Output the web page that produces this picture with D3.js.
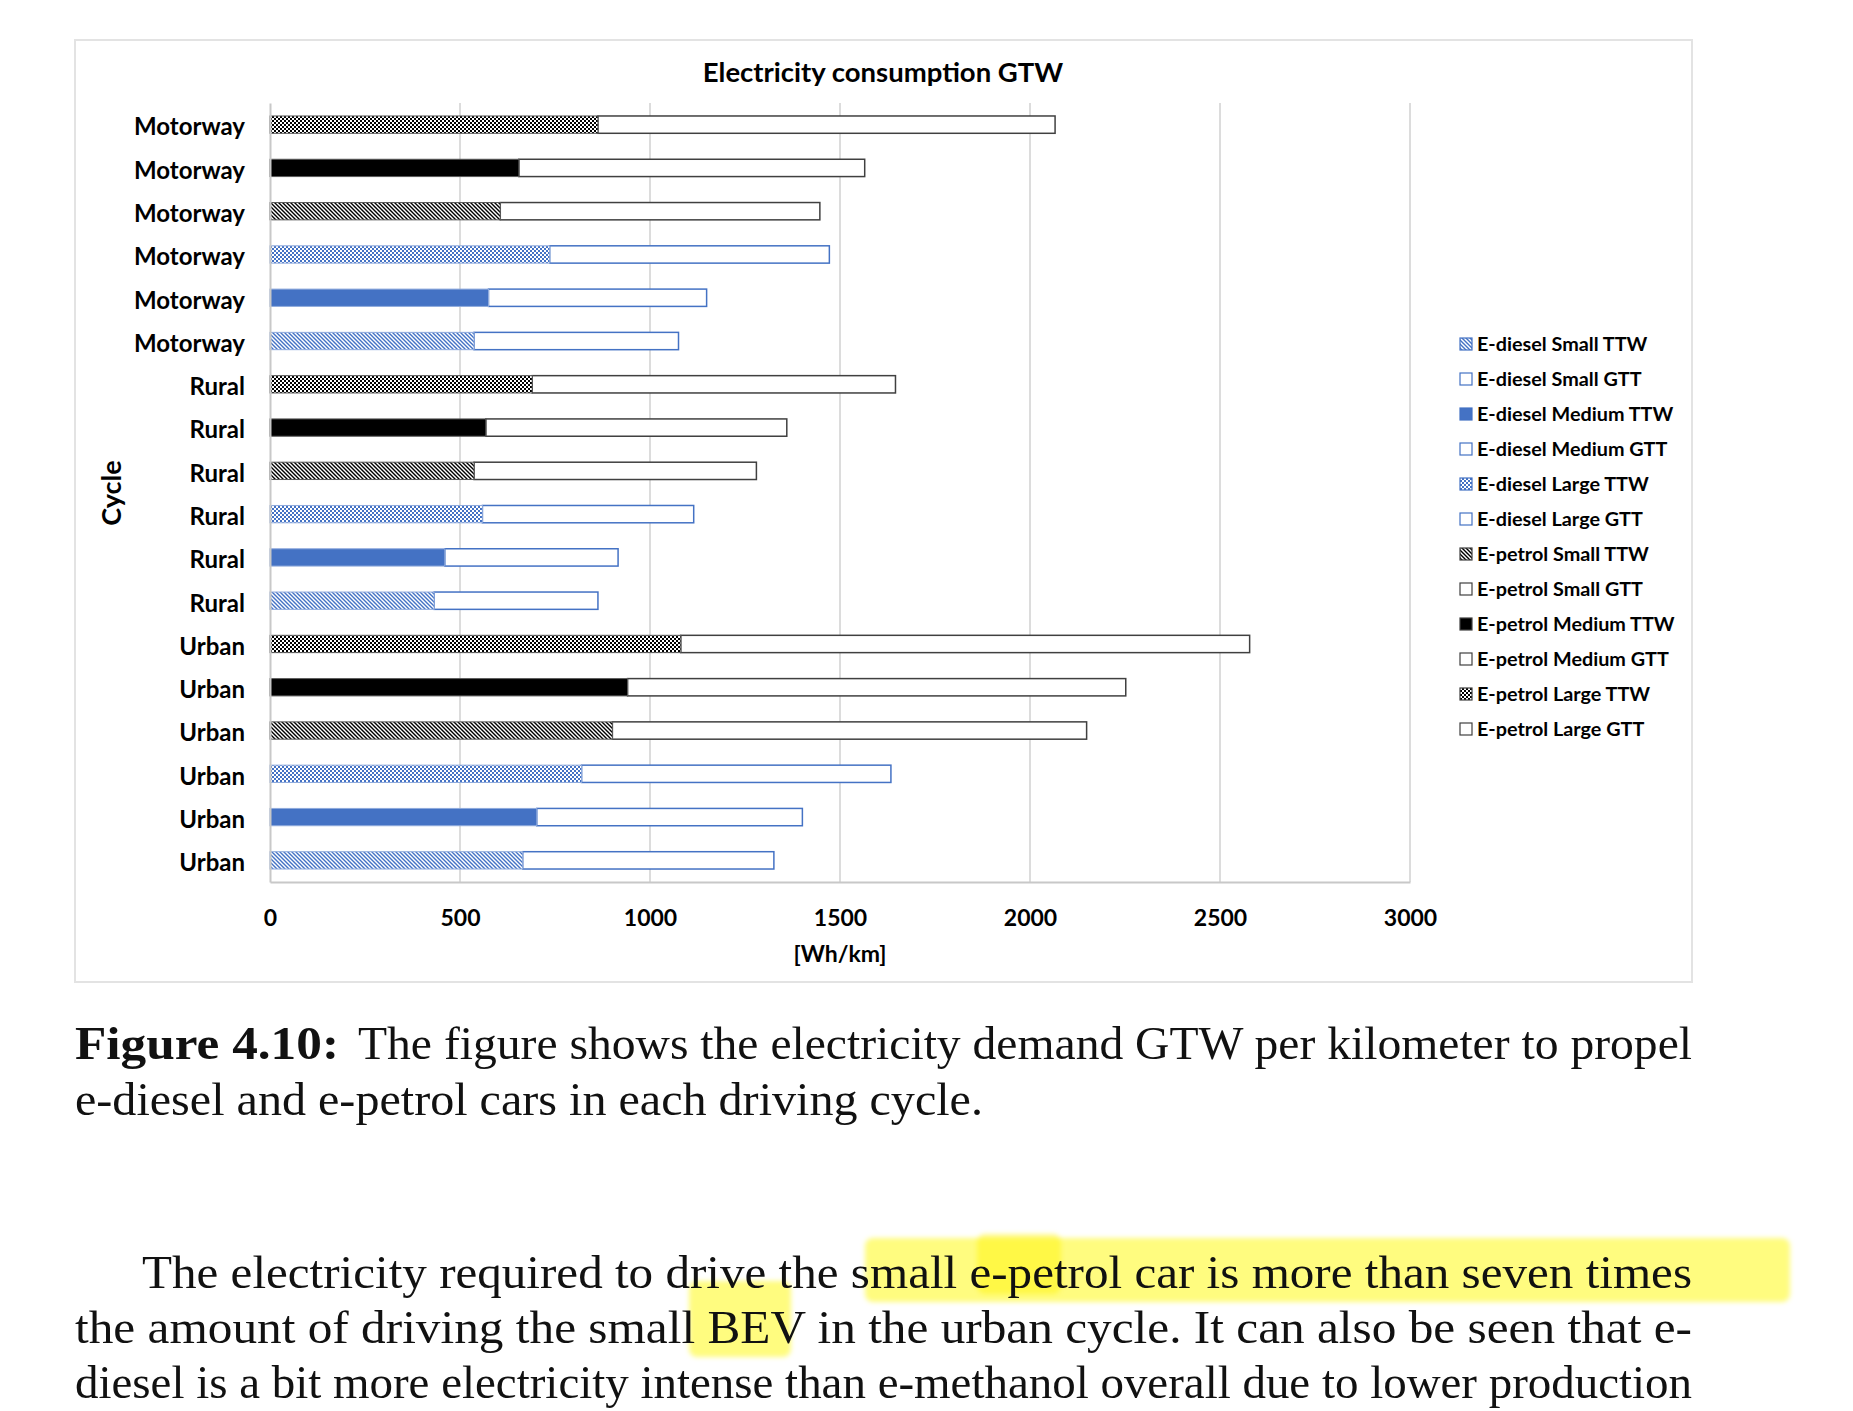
<!DOCTYPE html>
<html>
<head>
<meta charset="utf-8">
<script src="https://cdn.jsdelivr.net/npm/d3@7"></script>
<style>
  body { margin: 0; background: #fff; }
  .chart text { font-family: Lato, "Open Sans", sans-serif; font-weight: bold; fill: #000; }
  .page text { font-family: "Liberation Serif", "DejaVu Serif", serif; fill: #111; }
</style>
</head>
<body>
<svg id="canvas" width="1853" height="1411"></svg>
<script>
// values, Wh/km
const cycles = ['Urban', 'Rural', 'Motorway'];
const cars = ['E-diesel Small', 'E-diesel Medium', 'E-diesel Large', 'E-petrol Small', 'E-petrol Medium', 'E-petrol Large'];

const ttwUrban = [665, 702, 820, 901, 941, 1081];
const gttUrban = [661, 699, 814, 1248, 1311, 1497];
const ttwRural = [432, 460, 559, 537, 568, 690];
const gttRural = [431, 456, 556, 743, 792, 956];
const ttwMotorway = [537, 575, 736, 606, 655, 863];
const gttMotorway = [538, 574, 736, 841, 910, 1203];

const xTicks = [0, 500, 1000, 1500, 2000, 2500, 3000];
const legendLabels = [
  'E-diesel Small TTW', 'E-diesel Small GTT', 'E-diesel Medium TTW', 'E-diesel Medium GTT',
  'E-diesel Large TTW', 'E-diesel Large GTT', 'E-petrol Small TTW', 'E-petrol Small GTT',
  'E-petrol Medium TTW', 'E-petrol Medium GTT', 'E-petrol Large TTW', 'E-petrol Large GTT'
];

const blue = '#4472c4';
const dark = '#404040';

// one row per bar, bottom to top
const ttwByCycle = { Urban: ttwUrban, Rural: ttwRural, Motorway: ttwMotorway };
const gttByCycle = { Urban: gttUrban, Rural: gttRural, Motorway: gttMotorway };
const rows = [];
cycles.forEach(c => {
  cars.forEach((car, i) => {
    rows.push({ id: rows.length, cycle: c, car: car, k: i, ttw: ttwByCycle[c][i], gtt: gttByCycle[c][i] });
  });
});

const svg = d3.select('#canvas');
const defs = svg.append('defs');

function hatch(id, color) {
  const p = defs.append('pattern').attr('id', id)
    .attr('patternUnits', 'userSpaceOnUse').attr('width', 4).attr('height', 4);
  p.append('rect').attr('width', 4).attr('height', 4).attr('fill', '#fff');
  p.append('path').attr('d', 'M-1,-1L5,5M3,-1L5,1M-1,3L1,5')
    .attr('stroke', color).attr('stroke-width', 1.4);
}

function checker(id, color) {
  const p = defs.append('pattern').attr('id', id)
    .attr('patternUnits', 'userSpaceOnUse').attr('width', 4).attr('height', 4);
  p.append('rect').attr('width', 4).attr('height', 4).attr('fill', '#fff');
  p.append('rect').attr('width', 2).attr('height', 2).attr('fill', color);
  p.append('rect').attr('x', 2).attr('y', 2).attr('width', 2).attr('height', 2).attr('fill', color);
}

hatch('hatch-blue', blue);
hatch('hatch-dark', '#000');
checker('check-blue', blue);
checker('check-dark', '#000');

const blur = defs.append('filter').attr('id', 'soft');
blur.append('feGaussianBlur').attr('stdDeviation', 2.5);

// fill of the TTW part for each car type
const ttwFill = ['url(#hatch-blue)', blue, 'url(#check-blue)', 'url(#hatch-dark)', '#000', 'url(#check-dark)'];
const edge = k => k < 3 ? blue : dark;

// chart frame
const chart = svg.append('g').attr('class', 'chart');
chart.append('rect')
  .attr('x', 75).attr('y', 40).attr('width', 1617).attr('height', 942)
  .attr('fill', '#fff').attr('stroke', '#e3e3e3').attr('stroke-width', 2);

const margin = { left: 270, right: 1410, top: 103, bottom: 882 };

const x = d3.scaleLinear().domain([0, 3000]).range([margin.left, margin.right]);
const y = d3.scaleBand().domain(rows.map(d => d.id))
  .range([margin.bottom, margin.top]).paddingInner(0.6).paddingOuter(0.3);

chart.append('text')
  .attr('x', 883).attr('y', 82)
  .attr('text-anchor', 'middle')
  .style('font-size', '27.5px')
  .text('Electricity consumption GTW');

// gridlines
chart.append('g')
  .selectAll('line')
  .data(xTicks.slice(1))
  .join('line')
  .attr('x1', d => x(d)).attr('x2', d => x(d))
  .attr('y1', margin.top).attr('y2', margin.bottom)
  .attr('stroke', '#d0d0d0').attr('stroke-width', 1.5);

// bars
const bars = chart.append('g');
bars.selectAll('rect.gtt')
  .data(rows)
  .join('rect')
  .attr('class', 'gtt')
  .attr('x', d => x(d.ttw))
  .attr('y', d => y(d.id))
  .attr('width', d => x(d.ttw + d.gtt) - x(d.ttw))
  .attr('height', y.bandwidth())
  .attr('fill', '#fff')
  .attr('stroke', d => edge(d.k))
  .attr('stroke-width', 1.5);

bars.selectAll('rect.ttw')
  .data(rows)
  .join('rect')
  .attr('class', 'ttw')
  .attr('x', x(0))
  .attr('y', d => y(d.id))
  .attr('width', d => x(d.ttw) - x(0))
  .attr('height', y.bandwidth())
  .attr('fill', d => ttwFill[d.k])
  .attr('stroke', d => d.k < 3 ? '#8faadc' : '#595959')
  .attr('stroke-width', 1);

// axes
const xAxis = chart.append('g')
  .attr('transform', `translate(0,${margin.bottom})`)
  .call(d3.axisBottom(x).tickValues(xTicks).tickSize(0).tickPadding(28).tickFormat(d3.format('d')));
xAxis.select('.domain').attr('stroke', '#c8c8c8').attr('stroke-width', 2);
xAxis.selectAll('text').style('font-size', '23px');

const yAxis = chart.append('g')
  .attr('transform', `translate(${margin.left},0)`)
  .call(d3.axisLeft(y).tickSize(0).tickPadding(25).tickFormat(id => rows[id].cycle));
yAxis.select('.domain').attr('stroke', '#c8c8c8').attr('stroke-width', 2);
yAxis.selectAll('text').attr('dy', '0.45em').style('font-size', '24px');

chart.append('text')
  .attr('x', x(1500)).attr('y', 962)
  .attr('text-anchor', 'middle')
  .style('font-size', '23px')
  .text('[Wh/km]');

chart.append('text')
  .attr('transform', 'translate(121,493) rotate(-90)')
  .attr('text-anchor', 'middle')
  .style('font-size', '27px')
  .text('Cycle');

// legend
const legend = chart.append('g').attr('transform', 'translate(1460,344)');
const item = legend.selectAll('g')
  .data(legendLabels)
  .join('g')
  .attr('transform', (d, i) => `translate(0,${i * 35})`);

item.append('rect')
  .attr('x', 0).attr('y', -6).attr('width', 12).attr('height', 12)
  .attr('fill', (d, i) => i % 2 === 0 ? ttwFill[i / 2] : '#fff')
  .attr('stroke', (d, i) => edge(Math.floor(i / 2)))
  .attr('stroke-width', 1.2);

item.append('text')
  .attr('x', 17).attr('y', 7)
  .style('font-size', '19.8px')
  .text(d => d);

// page text below the figure
const page = svg.append('g').attr('class', 'page');

const marks = page.append('g').attr('filter', 'url(#soft)');
marks.append('rect').attr('x', 865).attr('y', 1238).attr('width', 925).attr('height', 64)
  .attr('rx', 8).attr('fill', 'rgb(255,250,0)').attr('opacity', 0.5);
marks.append('rect').attr('x', 977).attr('y', 1234).attr('width', 84).attr('height', 60)
  .attr('rx', 8).attr('fill', 'rgb(255,245,0)').attr('opacity', 0.45);
marks.append('rect').attr('x', 689).attr('y', 1281).attr('width', 102).attr('height', 76)
  .attr('rx', 8).attr('fill', 'rgb(255,250,0)').attr('opacity', 0.5);

const lines = [
  { x: 75, y: 1059, w: 264, bold: true, t: 'Figure 4.10:' },
  { x: 358, y: 1059, w: 1334, t: 'The figure shows the electricity demand GTW per kilometer to propel' },
  { x: 75, y: 1115, w: 908, t: 'e-diesel and e-petrol cars in each driving cycle.' },
  { x: 142, y: 1288, w: 1550, t: 'The electricity required to drive the small e-petrol car is more than seven times' },
  { x: 75, y: 1343, w: 1617, t: 'the amount of driving the small BEV in the urban cycle. It can also be seen that e-' },
  { x: 75, y: 1398, w: 1617, t: 'diesel is a bit more electricity intense than e-methanol overall due to lower production' }
];

page.selectAll('text')
  .data(lines)
  .join('text')
  .attr('x', d => d.x).attr('y', d => d.y)
  .attr('textLength', d => d.w)
  .attr('lengthAdjust', 'spacingAndGlyphs')
  .style('font-size', '46px')
  .style('font-weight', d => d.bold ? 'bold' : 'normal')
  .text(d => d.t);
</script>
</body>
</html>
